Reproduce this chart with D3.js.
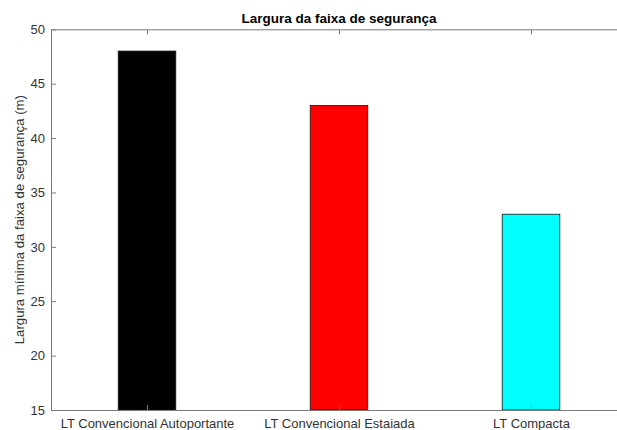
<!DOCTYPE html>
<html>
<head>
<meta charset="utf-8">
<script src="https://cdn.jsdelivr.net/npm/d3@7"></script>
<style>
  html, body { margin: 0; padding: 0; background: #fff; overflow: hidden; }
  text { font-family: "Liberation Sans", Arial, Helvetica, sans-serif; }
</style>
</head>
<body>
<svg id="chart" width="617" height="430"></svg>
<script>
const categories = ["LT Convencional Autoportante", "LT Convencional Estaiada", "LT Compacta"];
const values = [48, 43, 33];
const barColors = ["#000000", "#ff0000", "#00ffff"];
const yTicks = [15, 20, 25, 30, 35, 40, 45, 50];
const titleText = "Largura da faixa de segurança";
const yLabelText = "Largura mínima da faixa de segurança (m)";

(function () {
const svg = d3.select("#chart");
const mLeft = 51, mRight = 627, mTop = 29.3, mBottom = 410;
const axisColor = "#7a7a7a", textColor = "#333333";

const x = d3.scaleLinear().domain([0.5, 3.5]).range([mLeft, mRight]);
const y = d3.scaleLinear().domain([15, 50]).range([mBottom, mTop]);
const barW = 0.3;

// bars
svg.selectAll("rect.bar").data(values).enter().append("rect")
  .attr("class", "bar")
  .attr("x", (d, i) => x(i + 1 - barW / 2))
  .attr("width", (d, i) => x(i + 1 + barW / 2) - x(i + 1 - barW / 2))
  .attr("y", d => y(d))
  .attr("height", d => y(15) - y(d))
  .attr("fill", (d, i) => barColors[i])
  .attr("stroke", "#1a1a1a")
  .attr("stroke-width", 0.8);

// axes
const xIdx = categories.map((c, i) => i + 1);
const xAxis = d3.axisBottom(x).tickValues(xIdx).tickFormat((d) => categories[d - 1]).tickSizeInner(-5).tickSizeOuter(0).tickPadding(0);
const gx = svg.append("g").attr("transform", `translate(0,${mBottom})`).call(xAxis);
const xTop = d3.axisTop(x).tickValues(xIdx).tickFormat("").tickSizeInner(-5).tickSizeOuter(0);
const gxt = svg.append("g").attr("transform", `translate(0,${mTop})`).call(xTop);
const yAxis = d3.axisLeft(y).tickValues(yTicks).tickFormat(d3.format("d")).tickSizeInner(-5).tickSizeOuter(0).tickPadding(6);
const gy = svg.append("g").attr("transform", `translate(${mLeft},0)`).call(yAxis);
const yRight = d3.axisRight(y).tickValues(yTicks).tickFormat("").tickSizeInner(-5).tickSizeOuter(0);
const gyr = svg.append("g").attr("transform", `translate(${mRight},0)`).call(yRight);

[gx, gxt, gy, gyr].forEach(g => {
  g.selectAll("path.domain").attr("stroke", axisColor).attr("stroke-width", 1);
  g.selectAll(".tick line").attr("stroke", axisColor);
  g.selectAll(".tick text").attr("fill", textColor).attr("font-size", 13)
    .attr("font-family", "'Liberation Sans', Arial, sans-serif");
});
gx.selectAll(".tick text").attr("y", 18).attr("dy", "0");

// title
svg.append("text")
  .attr("x", (mLeft + mRight) / 2)
  .attr("y", 23)
  .attr("text-anchor", "middle")
  .attr("font-size", 13.5)
  .attr("font-weight", "bold")
  .attr("fill", "#000")
  .text(titleText);

// y label
svg.append("text")
  .attr("transform", `translate(24,${(mTop + mBottom) / 2}) rotate(-90)`)
  .attr("text-anchor", "middle")
  .attr("font-size", 13.2)
  .attr("fill", textColor)
  .text(yLabelText);
})();
</script>
</body>
</html>
